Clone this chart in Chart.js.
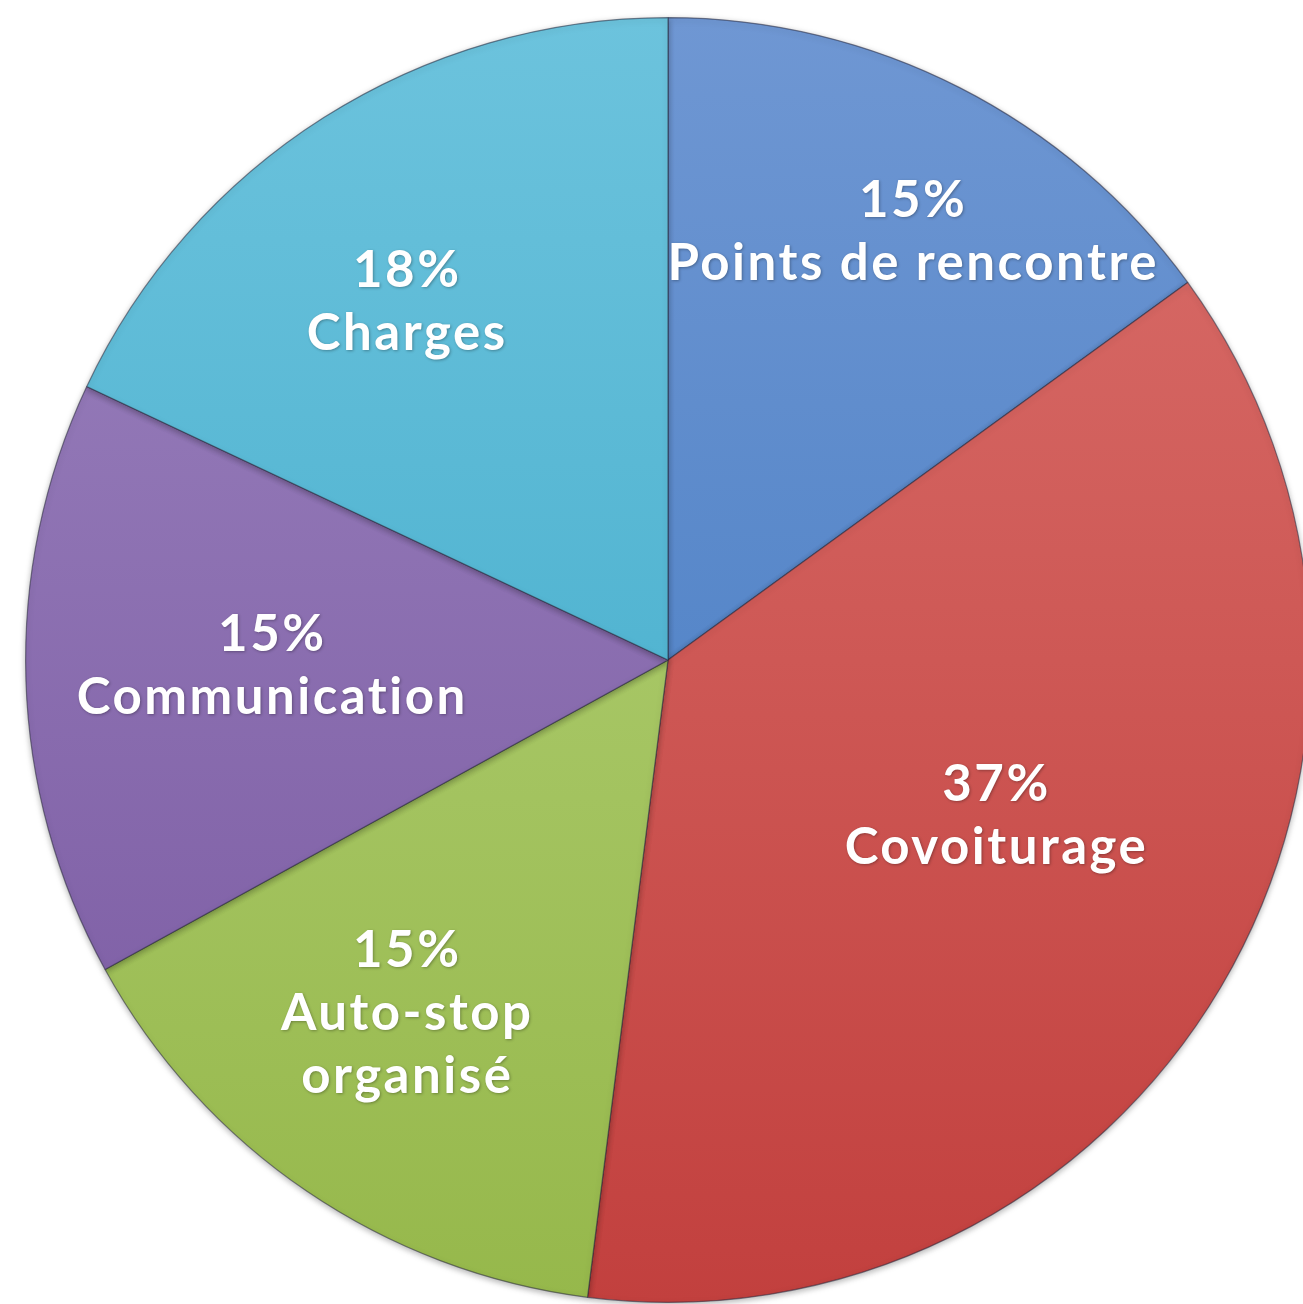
<!DOCTYPE html>
<html>
<head>
<meta charset="utf-8">
<script src="https://cdn.jsdelivr.net/npm/chart.js@4"></script>
<style>
  html, body { margin: 0; padding: 0; background: #fff; overflow: hidden; }
  #wrap { width: 1336px; height: 1320px; }
</style>
</head>
<body>
<div id="wrap"><canvas id="pie" width="1336" height="1320"></canvas></div>
<script>
// data
const categories = ['Points de rencontre', 'Covoiturage', 'Auto-stop organisé', 'Communication', 'Charges']
const shares = [15, 37, 15, 15, 18]
const pctLabels = ['15%', '37%', '15%', '15%', '18%']

// colours: light at top, darker at bottom
const topColors = ['#6f97d3', '#da706c', '#b7d47e', '#9c84bf', '#6cc3dd']
const bottomColors = ['#3d76bf', '#c2403e', '#96b84b', '#7857a0', '#38a6c6']
// where the text sits: part of the radius, and a small turn off the middle (degrees)
const labelRadius = [0.768, 0.566, 0.684, 0.616, 0.689]
const labelTurn = [2.8, -5.2, 2.2, 0.9, -3.7]

const lineSplit = (s) => s === 'Auto-stop organisé' ? ['Auto-stop', 'organisé'] : [s]

const sliceLabels = {
    id: 'sliceLabels',
    afterDatasetsDraw(chart) {
        const ctx = chart.ctx
        const arcs = chart.getDatasetMeta(0).data
        ctx.save()
        ctx.font = 'bold 51px Lato, "Open Sans", sans-serif'
        ctx.letterSpacing = '2.5px'
        ctx.fillStyle = '#fff'
        ctx.textAlign = 'center'
        ctx.textBaseline = 'middle'
        ctx.shadowColor = 'rgba(0,0,0,0.3)'
        ctx.shadowBlur = 3
        ctx.shadowOffsetX = 1
        ctx.shadowOffsetY = 1
        arcs.forEach((arc, i) => {
            const p = arc.getProps(['x', 'y', 'startAngle', 'endAngle', 'outerRadius'], true)
            const mid = (p.startAngle + p.endAngle) / 2 + labelTurn[i] * Math.PI / 180
            const r = p.outerRadius * labelRadius[i]
            const cx = p.x + Math.cos(mid) * r
            const cy = p.y + Math.sin(mid) * r
            const lines = [pctLabels[i]].concat(lineSplit(categories[i]))
            const lh = 63
            const y0 = cy - (lines.length - 1) * lh / 2
            lines.forEach((t, k) => ctx.fillText(t, cx, y0 + k * lh))
        })
        ctx.restore()
    }
}

// soft shadow round the pie
const pieShadow = {
    id: 'pieShadow',
    beforeDatasetsDraw(chart) {
        const ctx = chart.ctx
        ctx.save()
        ctx.shadowColor = 'rgba(0,0,0,0.3)'
        ctx.shadowBlur = 6
        ctx.shadowOffsetY = 2
    },
    afterDatasetsDraw(chart) {
        chart.ctx.restore()
    }
}

const ctx = document.getElementById('pie').getContext('2d')

new Chart(ctx, {
    type: 'pie',
    data: {
        labels: categories,
        datasets: [{
            data: shares,
            backgroundColor: (c) => {
                const area = c.chart.chartArea
                if (!area) return topColors[c.dataIndex]
                const g = c.chart.ctx.createLinearGradient(0, area.top, 0, area.bottom)
                g.addColorStop(0, topColors[c.dataIndex])
                g.addColorStop(1, bottomColors[c.dataIndex])
                return g
            },
            borderColor: 'rgba(40,40,60,0.55)',
            borderWidth: 1.2
        }]
    },
    options: {
        responsive: false,
        animation: false,
        layout: { padding: { left: 25, right: 25, top: 17, bottom: 17 } },
        plugins: {
            legend: { display: false },
            tooltip: { enabled: false }
        }
    },
    plugins: [pieShadow, sliceLabels]
})
</script>
</body>
</html>
